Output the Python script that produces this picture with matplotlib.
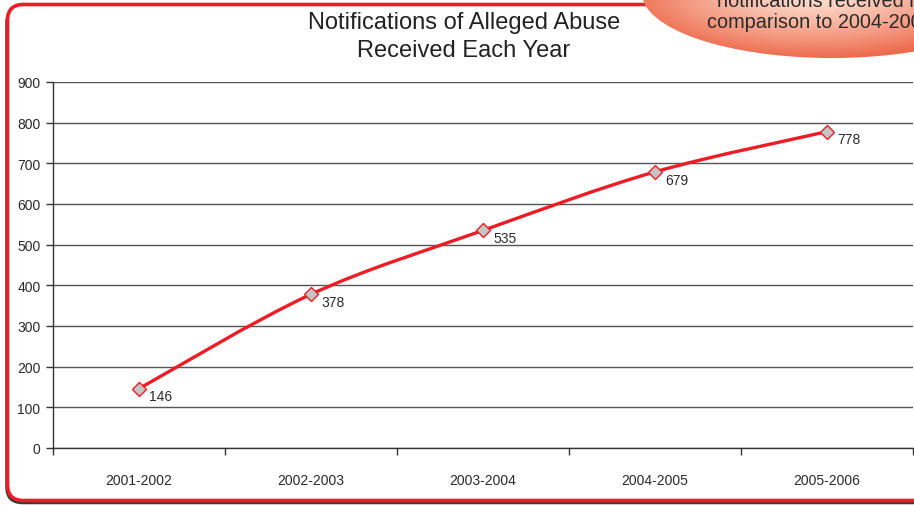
import numpy as np
import matplotlib
matplotlib.use('agg')
import matplotlib.pyplot as plt
from matplotlib import font_manager
from matplotlib.path import Path
from matplotlib.patches import PathPatch, FancyBboxPatch, Ellipse

plt.rcParams['font.family'] = ['Liberation Sans', 'DejaVu Sans']

years = ['2001-2002', '2002-2003', '2003-2004', '2004-2005', '2005-2006']
notifications = [146, 378, 535, 679, 778]
y_ticks = [0, 100, 200, 300, 400, 500, 600, 700, 800, 900]
title = 'Notifications of Alleged Abuse\nReceived Each Year'
callout_lines = ['notifications received in', 'comparison to 2004-2005']

# narrow font for axis texts if there is one
try:
    font_manager.findfont('Liberation Sans Narrow', fallback_to_default=False)
    small_font = ['Liberation Sans Narrow', 'DejaVu Sans']
    small_size = 11.5
except ValueError:
    small_font = ['Liberation Sans', 'DejaVu Sans']
    small_size = 10

W, H = 914, 506
fig = plt.figure(figsize=(W / 100, H / 100), dpi=100)

# background layer: rounded red frame with a small shadow
bg = fig.add_axes([0, 0, 1, 1], zorder=0)
bg.set_xlim(0, W)
bg.set_ylim(H, 0)
bg.axis('off')
shadow = FancyBboxPatch((6.5, 8), 940, 496, boxstyle='round,pad=0,rounding_size=16',
                        facecolor='#3a3a3a', edgecolor='#3a3a3a', linewidth=1.8)
bg.add_patch(shadow)
frame = FancyBboxPatch((7.5, 5.5), 940, 496, boxstyle='round,pad=0,rounding_size=16',
                       facecolor='white', edgecolor='#ee1c25', linewidth=2.6)
bg.add_patch(frame)

# chart
ax = fig.add_axes([53 / W, 1 - 449 / H, 860 / W, (449 - 83) / H], zorder=1)
ax.patch.set_alpha(0)
x = np.arange(len(years))

# smooth line (Catmull-Rom as cubic bezier), like Excel's smoothed line
pts = np.column_stack([x, notifications]).astype(float)
ext = np.vstack([pts[0], pts, pts[-1]])
verts = [tuple(pts[0])]
codes = [Path.MOVETO]
for i in range(1, len(ext) - 2):
    p0, p1, p2, p3 = ext[i - 1], ext[i], ext[i + 1], ext[i + 2]
    c1 = p1 + (p2 - p0) / 6
    c2 = p2 - (p3 - p1) / 6
    verts += [tuple(c1), tuple(c2), tuple(p2)]
    codes += [Path.CURVE4] * 3
ax.add_patch(PathPatch(Path(verts, codes), fill=False, edgecolor='#ee1c25',
                       linewidth=2.4, zorder=3, capstyle='round'))
ax.plot(x, notifications, linestyle='none', marker='D', markersize=7.5,
        markerfacecolor='#c4c4c4', markeredgecolor='#ee1c25', markeredgewidth=1.0, zorder=4)
for xi, v in zip(x, notifications):
    ax.annotate(str(v), (xi, v), xytext=(7.5, -5.5), textcoords='offset points',
                ha='left', va='center', fontsize=small_size, family=small_font,
                color='#2a2a2a')

ax.set_xlim(-0.5, len(years) - 0.5)
ax.set_ylim(0, 900)
ax.set_yticks(y_ticks)
ax.set_yticklabels([str(t) for t in y_ticks])
ax.set_xticks(x)
ax.set_xticklabels(years)
ax.set_xticks(np.arange(-0.5, len(years)), minor=True)
ax.tick_params(axis='x', which='major', length=0, pad=18, labelsize=small_size,
               labelcolor='#2a2a2a')
ax.tick_params(axis='x', which='minor', length=5, width=1, color='#333333', direction='out')
ax.tick_params(axis='y', length=5, width=1, color='#333333', pad=4, labelsize=small_size,
               labelcolor='#2a2a2a')
for lab in ax.get_xticklabels() + ax.get_yticklabels():
    lab.set_family(small_font)
ax.grid(axis='y', color='#555555', linewidth=1)
ax.set_axisbelow(True)
for s in ['top', 'right']:
    ax.spines[s].set_visible(False)
for s in ['left', 'bottom']:
    ax.spines[s].set_color('#333333')
    ax.spines[s].set_linewidth(1)

fig.text(464 / W, 1 - 37 / H, title, ha='center', va='center', fontsize=17,
         color='#222222', linespacing=1.3)

# callout bubble in the top right corner
fg = fig.add_axes([0, 0, 1, 1], zorder=2)
fg.set_xlim(0, W)
fg.set_ylim(H, 0)
fg.axis('off')
ell = Ellipse((832, -6), 380, 130, facecolor='none', edgecolor='none')
fg.add_patch(ell)
gx, gy = np.meshgrid(np.linspace(600, W, 300), np.linspace(-80, 70, 150))
r = np.sqrt(((gx - 815) / 190) ** 2 + ((gy + 5) / 64) ** 2)
r = np.clip(r, 0, 1)
c_in = np.array([253, 226, 212]) / 255
c_out = np.array([238, 108, 78]) / 255
img = c_in[None, None, :] * (1 - r[..., None] ** 1.3) + c_out[None, None, :] * (r[..., None] ** 1.3)
im = fg.imshow(img, extent=(600, W, 70, -80), aspect='auto', zorder=5, interpolation='bilinear')
im.set_clip_path(ell)
fg.set_xlim(0, W)
fg.set_ylim(H, 0)
fg.text(717, 1, callout_lines[0], ha='left', va='center', fontsize=14.3, color='#2a2a2a', zorder=6)
fg.text(707, 22, callout_lines[1], ha='left', va='center', fontsize=14.3, color='#2a2a2a', zorder=6)

fig.savefig('out.png', dpi=100)
